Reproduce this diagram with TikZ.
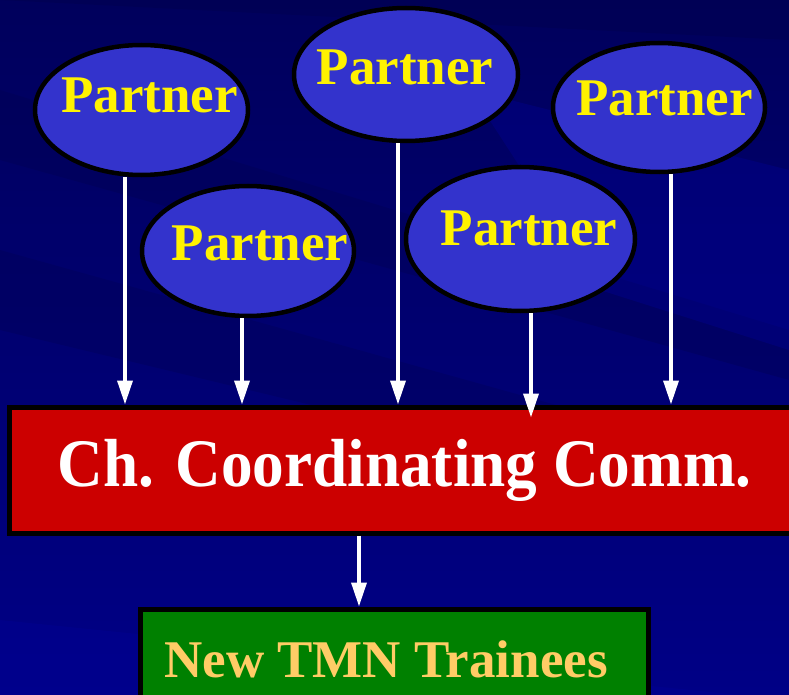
\documentclass[tikz,border=0pt]{standalone}
\usepackage{fontspec}
\setmainfont{Liberation Serif}
\usetikzlibrary{arrows.meta, shapes.geometric}
\tikzset{>={Triangle[width=15pt,length=24pt]}}
\definecolor{bgtop}{HTML}{00005C}
\definecolor{bgbot}{HTML}{000086}
\definecolor{bgdark}{HTML}{000050}
\definecolor{bglight}{HTML}{0000A0}
\definecolor{ellblue}{HTML}{3333CC}
\definecolor{commred}{HTML}{CC0000}
\definecolor{trgreen}{HTML}{008000}
\definecolor{trtext}{HTML}{FFCC66}

\begin{document}
\begin{tikzpicture}[x=1pt, y=-1pt,
    partner/.style={ellipse, draw=black, line width=4.5pt, fill=ellblue, inner sep=0pt},
    ptext/.style={text=yellow, font=\fontsize{53}{53}\selectfont\bfseries, inner sep=0pt},
    flow/.style={->, draw=white, line width=3.5pt}]
    \useasboundingbox (0,0) rectangle (789,695);
    % background with streaks
    \shade [top color=bgtop, bottom color=bgbot] (0,0) rectangle (789,695);
    \fill [bgdark, opacity=0.5] (0,0) -- (789,0) -- (789,40) -- (0,0) -- cycle;
    \fill [bgdark, opacity=0.35] (0,90) -- (789,330) -- (789,380) -- (0,160) -- cycle;
    \fill [bgdark, opacity=0.3] (0,250) -- (789,470) -- (789,520) -- (0,330) -- cycle;
    \fill [bglight, opacity=0.3] (470,90) -- (789,170) -- (789,350) -- (600,290) -- cycle;
    \fill [bglight, opacity=0.25] (0,620) -- (789,700) -- (789,695) -- (0,695) -- cycle;

    % partners
    \node [partner, minimum width=213pt, minimum height=130pt] (p1) at (141.5,110) {};
    \node [partner, minimum width=212pt, minimum height=130pt] (p2) at (248,251) {};
    \node [partner, minimum width=224pt, minimum height=133pt] (p3) at (406,74.5) {};
    \node [partner, minimum width=229pt, minimum height=144pt] (p4) at (520.5,239) {};
    \node [partner, minimum width=212pt, minimum height=129pt] (p5) at (659,107.5) {};
    \node [ptext] (t1) at (149.5,95.5) {Partner};
    \node [ptext] (t2) at (260,243.5) {Partner};
    \node [ptext] (t3) at (405,67) {Partner};
    \node [ptext] (t4) at (529,228) {Partner};
    \node [ptext] (t5) at (664.5,98) {Partner};

    % committee and trainees
    \node [draw=black, line width=5pt, fill=commred, inner sep=0pt,
           minimum width=790pt, minimum height=126pt, text=white,
           font=\fontsize{68}{68}\selectfont\bfseries] (cc) at (404.75,470)
           {\scalebox{0.93}[1]{Ch. Coordinating Comm.}};
    \node [draw=black, line width=5pt, fill=trgreen, inner sep=0pt,
           minimum width=508pt, minimum height=111pt] (nt) at (394.75,664.5) {};
    \node [text=trtext, inner sep=0pt, font=\fontsize{53}{53}\selectfont\bfseries]
           (tt) at (386,659.5) {New TMN Trainees};

    % arrows
    \draw [flow] (p1.south -| 125,0) -- (cc.north -| 125,0);
    \draw [flow] (p2.south -| 242,0) -- (cc.north -| 242,0);
    \draw [flow] (p3.south -| 398,0) -- (cc.north -| 398,0);
    \draw [flow, shorten >=-13pt] (p4.south -| 531,0) -- (cc.north -| 531,0);
    \draw [flow] (p5.south -| 671,0) -- (cc.north -| 671,0);
    \draw [flow] (cc.south -| 359,0) -- (nt.north -| 359,0);
\end{tikzpicture}
\end{document}
